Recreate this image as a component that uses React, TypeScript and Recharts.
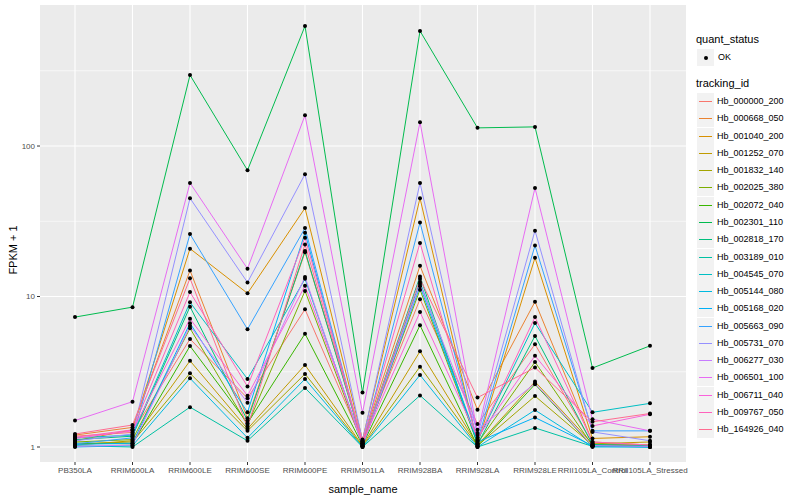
import { LineChart, Line, XAxis, YAxis, CartesianGrid, ReferenceLine } from 'recharts'

const samples = [
  'PB350LA', 'RRIM600LA', 'RRIM600LE', 'RRIM600SE', 'RRIM600PE', 'RRIM901LA',
  'RRIM928BA', 'RRIM928LA', 'RRIM928LE', 'RRII105LA_Control', 'RRII105LA_Stressed',
]

const trackingIds = [
  'Hb_000000_200', 'Hb_000668_050', 'Hb_001040_200', 'Hb_001252_070', 'Hb_001832_140',
  'Hb_002025_380', 'Hb_002072_040', 'Hb_002301_110', 'Hb_002818_170', 'Hb_003189_010',
  'Hb_004545_070', 'Hb_005144_080', 'Hb_005168_020', 'Hb_005663_090', 'Hb_005731_070',
  'Hb_006277_030', 'Hb_006501_100', 'Hb_006711_040', 'Hb_009767_050', 'Hb_164926_040',
]

const colors = [
  '#F8766D', '#EA8331', '#D89000', '#C09B00', '#A3A500', '#7CAE00', '#39B600', '#00BB4E',
  '#00BF7D', '#00C1A3', '#00BFC4', '#00BAE0', '#00B0F6', '#35A2FF', '#9590FF', '#C77CFF',
  '#E76BF3', '#FA62DB', '#FF62BC', '#FF6C91',
]

// FPKM + 1, one row per tracking id, one value per sample
const fpkm: number[][] = [
  [1.18, 1.25, 5.22, 2.11, 8.22, 1.08, 9.6, 1.42, 4.82, 1.05, 1.02],
  [1.2, 1.35, 14.9, 1.55, 19.7, 1.1, 16.0, 1.77, 9.24, 1.08, 1.03],
  [1.1, 1.3, 20.8, 10.5, 38.7, 1.12, 45, 1.05, 18.1, 1.14, 1.17],
  [1.03, 1.1, 3.74, 1.32, 3.51, 1.02, 4.32, 1.03, 2.72, 1.05, 1.08],
  [1.05, 1.08, 3.09, 1.28, 3.06, 1.01, 3.42, 1.02, 2.18, 1.03, 1.03],
  [1.08, 1.12, 6.15, 1.4, 10.9, 1.04, 11.1, 1.06, 3.67, 1.02, 1.01],
  [1.06, 1.05, 4.69, 1.44, 5.66, 1.03, 6.44, 1.01, 2.61, 1.01, 1.02],
  [7.3, 8.5, 296, 69, 627, 2.3, 581, 132, 134, 3.35, 4.7],
  [1.12, 1.18, 8.56, 1.5, 20.1, 1.06, 13.6, 1.04, 5.47, 1.04, 1.02],
  [1.02, 1.0, 1.84, 1.1, 2.47, 1.0, 2.2, 1.0, 1.34, 1.01, 1.0],
  [1.15, 1.2, 9.15, 2.83, 13.1, 1.05, 12.5, 1.1, 6.66, 1.7, 1.95],
  [1.0, 1.02, 2.86, 1.15, 2.83, 1.0, 3.01, 1.0, 1.76, 1.0, 1.0],
  [1.04, 1.06, 6.64, 1.7, 26.5, 1.02, 11.7, 1.08, 1.57, 1.02, 1.0],
  [1.05, 1.15, 26, 6.06, 28.5, 1.05, 31, 1.1, 21.8, 1.28, 1.28],
  [1.1, 1.22, 45, 12.4, 65, 1.1, 56.8, 1.2, 27.4, 1.26, 1.1],
  [1.01, 1.03, 6.36, 1.97, 13.5, 1.02, 12.1, 1.3, 2.65, 1.02, 1.01],
  [1.5, 2.0, 56.8, 15.3, 160, 1.69, 144, 1.24, 52.6, 1.53, 1.28],
  [1.14, 1.28, 7.12, 2.19, 11.8, 1.07, 7.89, 1.15, 4.04, 1.38, 1.65],
  [1.16, 1.3, 10.7, 2.52, 24.6, 1.09, 22.7, 1.12, 7.3, 1.08, 1.03],
  [1.22, 1.4, 13.2, 1.36, 22.2, 1.06, 13.1, 2.13, 3.37, 1.47, 1.67],
]

const yTicks = [1, 10, 100]
const yMinor = [3.162, 31.62, 316.2]

const data = samples.map((s, i) => {
  const row: Record<string, string | number> = { sample: s }
  trackingIds.forEach((id, j) => { row[id] = fpkm[j][i] })
  return row
})

const font = '"Liberation Sans", Arial, sans-serif'
const tickStyle = { fontSize: 8, fill: '#4D4D4D', fontFamily: font }

export default function App() {
  return (
    <div style={{ position: 'absolute', left: 0, top: 0, width: 800, height: 500, background: '#fff', fontFamily: font }}>
      <LineChart width={800} height={500} data={data} margin={{ top: 5, right: 114, bottom: 0, left: 0 }}>
        <CartesianGrid fill="#EBEBEB" horizontal={false} vertical={false} />
        {yMinor.map(v => (
          <ReferenceLine key={'mn' + v} y={v} stroke="#fff" strokeWidth={0.6} />
        ))}
        {yTicks.map(v => (
          <ReferenceLine key={'mj' + v} y={v} stroke="#fff" strokeWidth={1.1} />
        ))}
        {samples.map(s => (
          <ReferenceLine key={'v' + s} x={s} stroke="#fff" strokeWidth={1.1} />
        ))}
        <XAxis
          dataKey="sample" interval={0} height={38} padding={{ left: 35, right: 36 }}
          tick={tickStyle} tickSize={3} tickMargin={2}
          axisLine={false} tickLine={{ stroke: '#333' }}
          label={{ value: 'sample_name', position: 'insideBottom', offset: 7, style: { fontSize: 11, fill: '#000', fontFamily: font } }}
        />
        <YAxis
          scale="log" domain={[0.795, 865]} allowDataOverflow ticks={yTicks} width={40}
          tick={tickStyle} tickSize={3} tickMargin={2}
          axisLine={false} tickLine={{ stroke: '#333' }}
        />
        {trackingIds.map((id, j) => (
          <Line
            key={id} dataKey={id} type="linear" stroke={colors[j]} strokeWidth={1}
            dot={{ r: 2, fill: '#000', stroke: 'none' }}
            isAnimationActive={false}
          />
        ))}
      </LineChart>

      <div style={{ position: 'absolute', left: 6, top: 250, transform: 'translate(-50%, -50%) rotate(-90deg)', transformOrigin: 'center', marginLeft: 7, fontSize: 11, whiteSpace: 'nowrap' }}>
        FPKM + 1
      </div>

      <div style={{ position: 'absolute', left: 696, top: 33, fontSize: 11 }}>quant_status</div>
      <div style={{ position: 'absolute', left: 697, top: 49, width: 17, height: 17, background: '#F2F2F2' }}>
        <div style={{ position: 'absolute', left: 6.5, top: 6.5, width: 4, height: 4, borderRadius: 2, background: '#000' }} />
      </div>
      <div style={{ position: 'absolute', left: 718, top: 52, fontSize: 9 }}>OK</div>

      <div style={{ position: 'absolute', left: 696, top: 77, fontSize: 11 }}>tracking_id</div>
      {trackingIds.map((id, j) => (
        <div key={id}>
          <div style={{ position: 'absolute', left: 697, top: 93 + j * 17.28, width: 17, height: 17, background: '#F2F2F2' }}>
            <div style={{ position: 'absolute', left: 2, top: 8, width: 13, height: 1, background: colors[j] }} />
          </div>
          <div style={{ position: 'absolute', left: 717, top: 96 + j * 17.28, fontSize: 9 }}>{id}</div>
        </div>
      ))}
    </div>
  )
}
